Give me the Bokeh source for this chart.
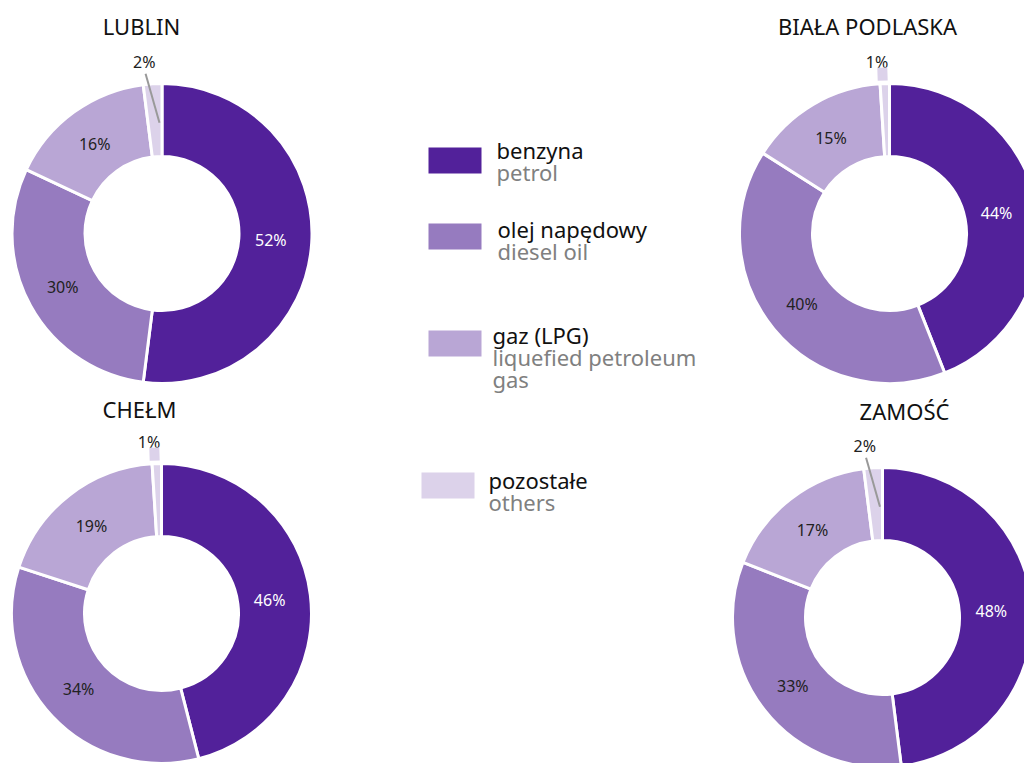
import numpy as np
from bokeh.plotting import figure
from bokeh.models import Range1d
from bokeh.core.properties import value
from bokeh.embed import file_html
from bokeh.resources import INLINE

# ---- data ----
cities = ["LUBLIN", "BIAŁA PODLASKA", "CHEŁM", "ZAMOŚĆ"]
categories_pl = ["benzyna", "olej napędowy", "gaz (LPG)", "pozostałe"]
categories_en = ["petrol", "diesel oil", "liquefied petroleum\ngas", "others"]
lublin = [52, 30, 16, 2]
biala_podlaska = [44, 40, 15, 1]
chelm = [46, 34, 19, 1]
zamosc = [48, 33, 17, 2]
colors = ["#52219a", "#967bbf", "#b9a6d5", "#dcd2ea"]

# ---- layout (page pixels) ----
W, H = 1024, 763
def X(px): return px
def Y(py): return H - py

centers = [(161.5, 233), (889, 233), (161, 613), (882, 617)]
title_pos = [(141, 25), (867, 25), (139, 408), (904, 410)]
R_IN, R_OUT = 77, 150
FONT = "Noto Sans"

leg_sq = [(428, 147), (428, 223), (428, 330), (421, 472)]
leg_txt = [(496, 149), (497, 228), (492, 334), (488, 479)]

p = figure(width=W, height=H, x_range=Range1d(0, W), y_range=Range1d(0, H),
           output_backend="svg", toolbar_location=None, min_border=0)
p.axis.visible = False
p.grid.visible = False
p.outline_line_color = None
p.background_fill_color = "white"

series = [lublin, biala_podlaska, chelm, zamosc]
for city, vals, (cx, cy), (tx, ty) in zip(cities, series, centers, title_pos):
    vals = np.array(vals, dtype=float)
    frac = vals / vals.sum()
    cum = np.concatenate([[0], np.cumsum(frac)])
    a0, a1 = cum[:-1], cum[1:]
    start = np.pi / 2 - 2 * np.pi * a1
    end = np.pi / 2 - 2 * np.pi * a0
    p.annular_wedge(x=[X(cx)] * 4, y=[Y(cy)] * 4, inner_radius=R_IN, outer_radius=R_OUT,
                    start_angle=list(start), end_angle=list(end), fill_color=colors,
                    line_color="white", line_width=3)
    mid = (a0 + a1) / 2 * 2 * np.pi  # clockwise from top
    for i, (v, m) in enumerate(zip(vals, mid)):
        label = f"{int(round(v))}%"
        if v >= 5:
            r = 111
            lx = X(cx) + r * np.sin(m) - 2
            ly = Y(cy) + r * np.cos(m)
            col = "white" if i == 0 else "#222222"
            p.text(x=[lx], y=[ly], text=[label], text_align="center", text_baseline="middle",
                   text_font=value(FONT), text_font_size="16px", text_color=col)
        else:
            r = 172
            lx = X(cx) + r * np.sin(m) - 7
            ly = Y(cy) + r * np.cos(m)
            p.text(x=[lx], y=[ly], text=[label], text_align="center", text_baseline="middle",
                   text_font=value(FONT), text_font_size="16px", text_color="#222222")
            if v < 1.5:
                r0, r1 = 153, 166
                p.segment(x0=[X(cx) + r0 * np.sin(m) - 2], y0=[Y(cy) + r0 * np.cos(m)],
                          x1=[X(cx) + r1 * np.sin(m) - 2], y1=[Y(cy) + r1 * np.cos(m)],
                          line_color=colors[i], line_width=10)
            else:
                p.segment(x0=[X(cx) + 160 * np.sin(m - 0.04)], y0=[Y(cy) + 160 * np.cos(m)],
                          x1=[X(cx) + 111 * np.sin(m + 0.04)], y1=[Y(cy) + 111 * np.cos(m)],
                          line_color="#999999", line_width=2)
    p.text(x=[X(tx)], y=[Y(ty)], text=[city], text_align="center", text_baseline="alphabetic",
           text_font=value(FONT), text_font_size="22px", text_color="#111111")

# legend
for col, pl, en, (sx, sy), (tx, ty) in zip(colors, categories_pl, categories_en, leg_sq, leg_txt):
    p.quad(left=[X(sx)], right=[X(sx + 53)], top=[Y(sy)], bottom=[Y(sy + 26)],
           fill_color=col, line_color=None)
    p.text(x=[X(tx)], y=[Y(ty)], text=[pl], text_align="left", text_baseline="alphabetic",
           text_font=value(FONT), text_font_size="22px", text_color="#111111")
    for k, line in enumerate(en.split("\n")):
        p.text(x=[X(tx)], y=[Y(ty + 22 * (k + 1))], text=[line], text_align="left",
               text_baseline="alphabetic", text_font=value(FONT), text_font_size="22px",
               text_color="#808080")

open("out.html", "w").write(file_html(p, INLINE))
